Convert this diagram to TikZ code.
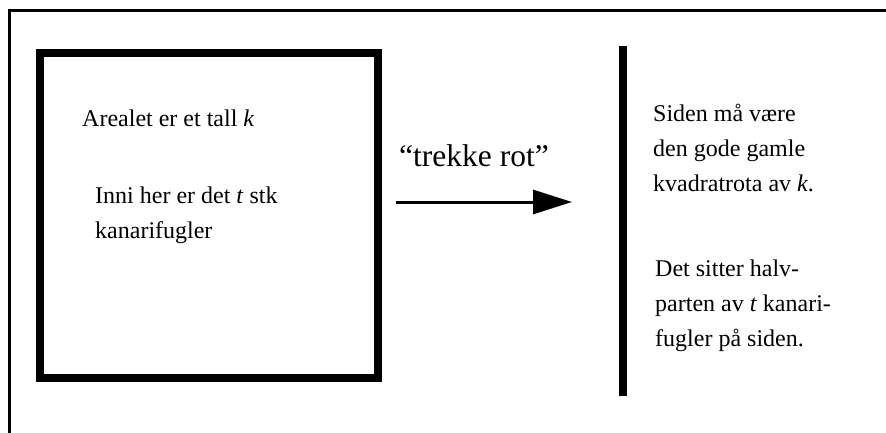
\documentclass[tikz,border=0pt]{standalone}
\usepackage{fontspec}
\setmainfont{Liberation Serif}
\usetikzlibrary{arrows.meta}
\begin{document}
\begin{tikzpicture}[x=1pt,y=-1pt,
  txt/.style={anchor=base west, inner sep=0pt, font=\fontsize{24}{29}\selectfont},
  bigtxt/.style={anchor=base west, inner sep=0pt, font=\fontsize{31.5}{36}\selectfont},
  frameline/.style={line width=3pt, line join=miter},
  heavy/.style={line width=8pt, line join=miter}]
\useasboundingbox (0,0) rectangle (886,433);
% outer frame (top and left only)
\coordinate (ftr) at (886,10.5);
\coordinate (ftl) at (9.5,10.5);
\coordinate (fbl) at (9.5,433);
\draw[frameline] (ftr) -- (ftl) -- (fbl);
% square
\node[draw, heavy, minimum width=338pt, minimum height=325pt, inner sep=0pt] (box) at (209,215.5) {};
% vertical bar
\coordinate (bt) at (623,46);
\coordinate (bb) at (623,396);
\draw[heavy, line cap=butt] (bt) -- (bb);
% arrow
\coordinate (as) at (396,202);
\coordinate (ae) at (572,202);
\draw[line width=3pt, -{Triangle[length=39pt,width=24pt]}] (as) -- (ae);
% texts
\node[txt] (t1) at (82,127) {Arealet er et tall \textit{k}};
\node[txt] (t2) at (95,203) {Inni her er det \textit{t} stk};
\node[txt] (t3) at (95,238) {kanarifugler};
\node[bigtxt] (lab) at (399,167) {“trekke rot”};
\node[txt] (r1) at (653,122) {Siden må være};
\node[txt] (r2) at (653,157) {den gode gamle};
\node[txt] (r3) at (653,191) {kvadratrota av \textit{k}.};
\node[txt] (r4) at (655,276) {Det sitter halv-};
\node[txt] (r5) at (655,311) {parten av \textit{t} kanari-};
\node[txt] (r6) at (655,346) {fugler på siden.};
\end{tikzpicture}
\end{document}
